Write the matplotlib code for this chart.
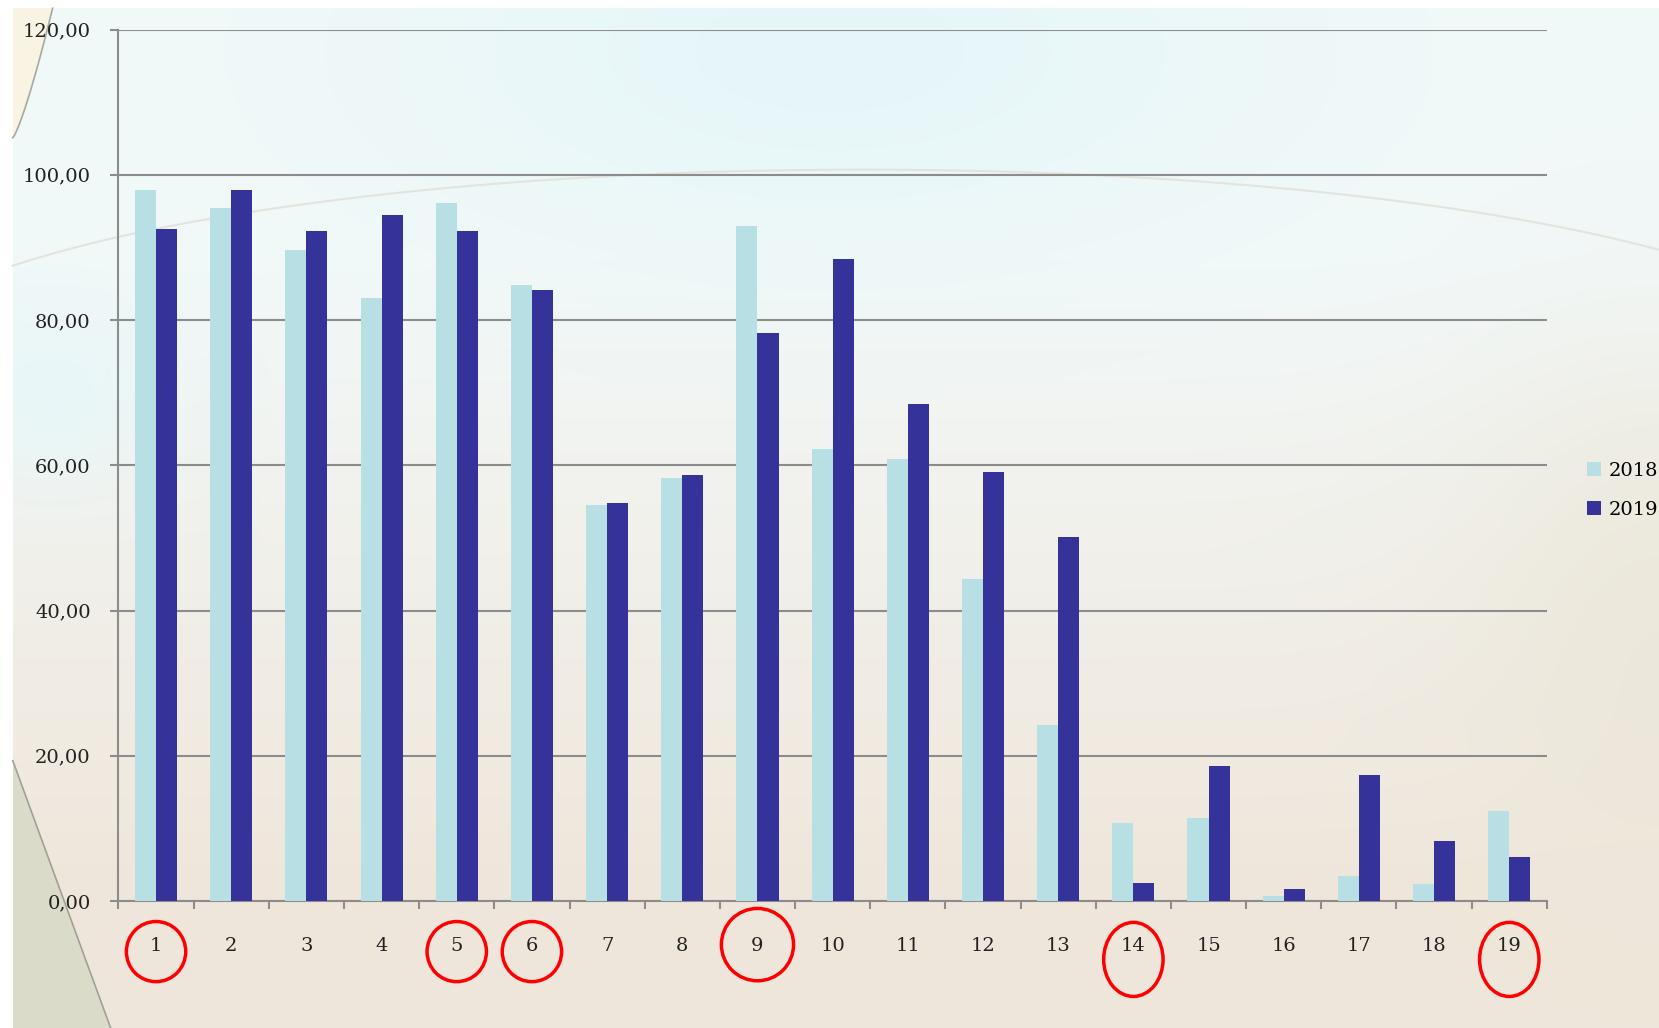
import numpy as np
import matplotlib.pyplot as plt
from matplotlib.patches import Ellipse
from matplotlib.transforms import blended_transform_factory

# показатели по пунктам 1..19 за два года
categories = [str(i) for i in range(1, 20)]
values_2018 = [97.9, 95.4, 89.7, 83.0, 96.1, 84.9, 54.6, 58.3, 92.9, 62.2,
               60.9, 44.3, 24.3, 10.8, 11.5, 0.7, 3.4, 2.3, 12.4]
values_2019 = [92.6, 97.9, 92.2, 94.5, 92.2, 84.2, 54.8, 58.7, 78.2, 88.4,
               68.5, 59.1, 50.1, 2.5, 18.6, 1.6, 17.3, 8.2, 6.0]
series_names = ["2018", "2019"]
y_ticks = [0, 20, 40, 60, 80, 100, 120]

# пункты, обведённые красным
marked = [1, 5, 6, 9, 14, 19]

c_2018 = "#b8dfe3"
c_2019 = "#35339a"
c_grid = "#8c8c8c"

W, H = 1659, 1028
fig = plt.figure(figsize=(W / 100, H / 100), dpi=100)

# фон слайда: плавный переход от голубоватого сверху к бежевому снизу
bg = fig.add_axes([0, 0, 1, 1], zorder=-10)
yy, xx = np.mgrid[0:1:H * 1j, 0:1:W * 1j]
top = np.array([0.95, 0.975, 0.975])
bottom = np.array([0.94, 0.905, 0.86])
t = np.clip((yy - 0.25) / 0.6, 0, 1)[..., None]
img = top * (1 - t) + bottom * t
glow = np.exp(-(((xx - 0.5) / 0.28) ** 2 + ((yy - 0.05) / 0.2) ** 2))[..., None]
img = img * (1 - 0.8 * glow) + np.array([0.89, 0.965, 0.975]) * 0.8 * glow
glow2 = np.exp(-(((xx - 0.03) / 0.08) ** 2 + ((yy - 0.38) / 0.1) ** 2))[..., None]
img = img * (1 - 0.7 * glow2) + np.array([0.9, 0.97, 0.98]) * 0.7 * glow2
side = np.exp(-(((xx - 1.0) / 0.12) ** 2 + ((yy - 0.6) / 0.25) ** 2))[..., None]
img = img * (1 - 0.7 * side) + np.array([0.92, 0.9, 0.84]) * 0.7 * side

# левые углы слайда
x0 = 0.0077
corner = (yy > 0.74) & (xx < x0 + (yy - 0.74) / 0.26 * 0.059)
img[corner] = [0.86, 0.86, 0.79]
corner2 = (yy < 0.134) & (xx < x0 + ((0.134 - yy) / 0.126) ** 0.8 * 0.024)
img[corner2] = [0.975, 0.955, 0.89]
img[:, :13] = 1.0
img[:8, :] = 1.0
bg.imshow(img, extent=[0, 1, 0, 1], aspect="auto", origin="upper")

cy_ = np.linspace(0.008, 0.134, 50)
bg.plot(x0 + ((0.134 - cy_) / 0.126) ** 0.8 * 0.024, 1 - cy_, color="#a8a8a0", lw=1.2)
bg.plot([x0, x0 + 0.059], [0.26, 0.0], color="#a0a098", lw=1.2)
arc_x = np.linspace(x0, 1.0, 200)
arc_y = 0.64 + 0.195 * np.sqrt(np.clip(1 - ((arc_x - 0.52) / 0.6) ** 2, 0, 1))
bg.plot(arc_x, arc_y, color="#e4e4de", lw=1.5)
bg.set_xlim(0, 1)
bg.set_ylim(0, 1)
bg.axis("off")

ax = fig.add_axes([0.0714, 0.1235, 0.861, 0.8477])
ax.set_facecolor("none")

x = np.arange(len(categories))
w = 0.28
ax.bar(x - w / 2, values_2018, w, color=c_2018, label=series_names[0], zorder=3)
ax.bar(x + w / 2, values_2019, w, color=c_2019, label=series_names[1], zorder=3)

ax.set_xlim(-0.5, len(categories) - 0.5)
ax.set_ylim(0, 120)
ax.set_yticks(y_ticks)
ax.set_yticklabels([f"{v:.2f}".replace(".", ",") for v in y_ticks])
ax.set_xticks(x)
ax.set_xticklabels(categories)
ax.set_xticks(np.arange(-0.5, len(categories), 1), minor=True)

ax.yaxis.grid(True, color=c_grid, lw=1.5, zorder=1)
ax.set_axisbelow(True)
for s in ["top", "right"]:
    ax.spines[s].set_visible(False)
for s in ["left", "bottom"]:
    ax.spines[s].set_color(c_grid)
    ax.spines[s].set_linewidth(1.5)

font = {"family": "DejaVu Serif", "size": 14}
ax.tick_params(axis="y", length=6, width=1.5, color=c_grid, pad=14,
               labelcolor="#222222")
ax.tick_params(axis="x", which="major", length=0, pad=26, labelcolor="#222222")
ax.tick_params(axis="x", which="minor", length=6, width=1.5, color=c_grid)
for lab in ax.get_xticklabels() + ax.get_yticklabels():
    lab.set_fontfamily(font["family"])
    lab.set_fontsize(font["size"])

# красные овалы вокруг подписей
trans = blended_transform_factory(ax.transData, ax.transAxes)
for k in marked:
    big = k == 9
    tall = k in (14, 19)
    ew = 0.96 if big else 0.79
    eh = 0.083 if big else (0.085 if tall else 0.069)
    cy = -0.05 if big else (-0.067 if tall else -0.058)
    ax.add_patch(Ellipse((k - 1, cy), ew, eh, transform=trans, fill=False,
                         edgecolor="#ff0000", lw=2.5, clip_on=False, zorder=5))

fig.legend(loc="center left", bbox_to_anchor=(0.946, 0.523), frameon=False,
           prop={"family": "DejaVu Serif", "size": 14}, handlelength=0.7,
           handleheight=0.7, handletextpad=0.4, labelspacing=1.1)

fig.savefig("out.png", dpi=100)
